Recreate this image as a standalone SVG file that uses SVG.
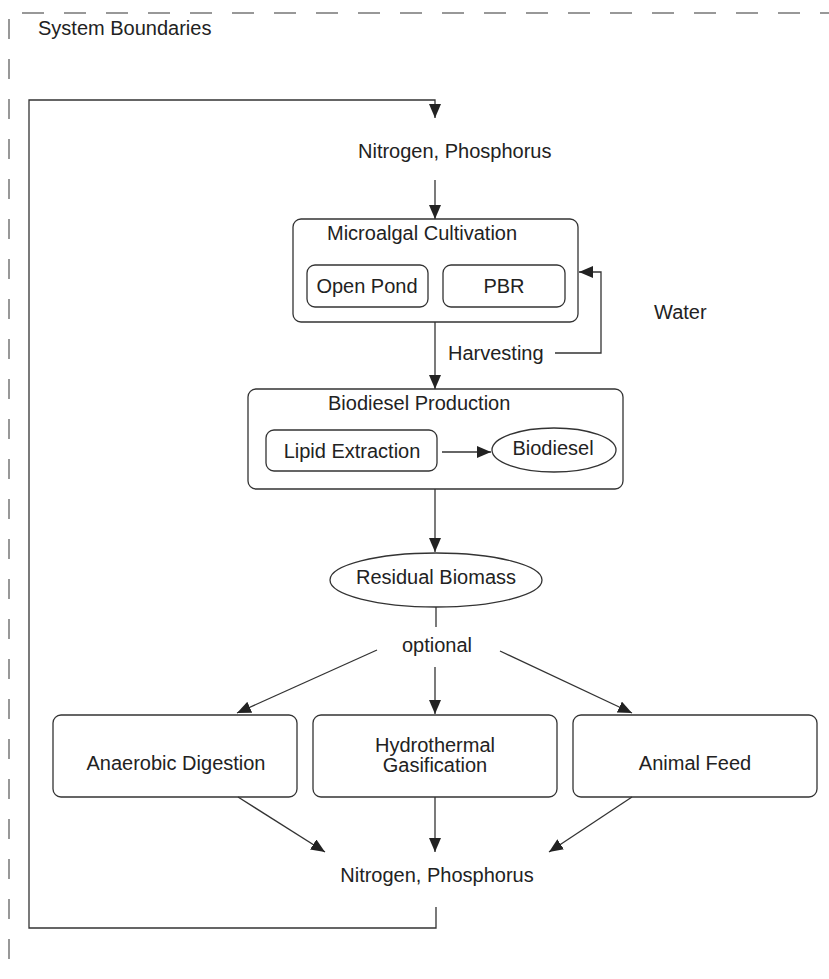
<svg xmlns="http://www.w3.org/2000/svg" width="829" height="979" viewBox="0 0 829 979">
<defs>
<style>
.t{font-family:"Liberation Sans",Arial,sans-serif;font-size:20px;fill:#222}
.c{text-anchor:middle}
.b{fill:#fff;stroke:#333;stroke-width:1.3}
.l{fill:none;stroke:#333;stroke-width:1.3}
.d{fill:none;stroke:#777;stroke-width:1.5}
</style>
<marker id="ah" markerUnits="userSpaceOnUse" markerWidth="16" markerHeight="12" refX="14" refY="6" orient="auto">
<path d="M0,0 L14,6 L0,12 Z" fill="#222"/>
</marker>
</defs>
<rect width="829" height="979" fill="#fff"/>
<g id="boundary">
<path class="d" d="M22,13 H829" stroke-dasharray="22 20"/>
<path class="d" d="M9,19 V979" stroke-dasharray="20 20"/>
<text class="t" x="38" y="35">System Boundaries</text>
</g>
<g id="np-top"><text class="t" x="358" y="158">Nitrogen, Phosphorus</text></g>
<g id="cultivation">
<rect class="b" x="293" y="219" width="285" height="103" rx="8"/>
<text class="t" x="327" y="240">Microalgal Cultivation</text>
</g>
<g id="open-pond">
<rect class="b" x="307" y="265" width="121" height="42" rx="8"/>
<text class="t c" x="367" y="293">Open Pond</text>
</g>
<g id="pbr">
<rect class="b" x="443" y="265" width="122" height="42" rx="8"/>
<text class="t c" x="504" y="293">PBR</text>
</g>
<g id="harvesting"><text class="t" x="448" y="360">Harvesting</text></g>
<g id="water"><text class="t" x="654" y="319">Water</text></g>
<g id="biodiesel-production">
<rect class="b" x="248" y="389" width="375" height="100" rx="8"/>
<text class="t" x="328" y="410">Biodiesel Production</text>
</g>
<g id="lipid-extraction">
<rect class="b" x="266" y="430" width="171" height="41" rx="8"/>
<text class="t c" x="352" y="458">Lipid Extraction</text>
</g>
<g id="biodiesel">
<ellipse class="b" cx="554" cy="450" rx="62" ry="22"/>
<text class="t c" x="553" y="455">Biodiesel</text>
</g>
<g id="residual-biomass">
<ellipse class="b" cx="436" cy="580" rx="106" ry="27"/>
<text class="t c" x="436" y="584">Residual Biomass</text>
</g>
<g id="optional"><text class="t c" x="437" y="652">optional</text></g>
<g id="anaerobic">
<rect class="b" x="53" y="715" width="244" height="82" rx="8"/>
<text class="t c" x="176" y="770">Anaerobic Digestion</text>
</g>
<g id="hydrothermal">
<rect class="b" x="313" y="715" width="244" height="82" rx="8"/>
<text class="t c" x="435" y="752">Hydrothermal</text>
<text class="t c" x="435" y="772">Gasification</text>
</g>
<g id="animal-feed">
<rect class="b" x="573" y="715" width="244" height="82" rx="8"/>
<text class="t c" x="695" y="770">Animal Feed</text>
</g>
<g id="np-bottom"><text class="t c" x="437" y="882">Nitrogen, Phosphorus</text></g>
<g id="connectors">
<path class="l" d="M436,907 V928 H29 V100 H435 V118" marker-end="url(#ah)"/>
<path class="l" d="M435,180 V219" marker-end="url(#ah)"/>
<path class="l" d="M435,322 V389" marker-end="url(#ah)"/>
<path class="l" d="M555,353 H601 V272 H579" marker-end="url(#ah)"/>
<path class="l" d="M442,452 H491" marker-end="url(#ah)"/>
<path class="l" d="M435,489 V552" marker-end="url(#ah)"/>
<path class="l" d="M436,607 V627"/>
<path class="l" d="M377,650 L237,713" marker-end="url(#ah)"/>
<path class="l" d="M435,667 V714" marker-end="url(#ah)"/>
<path class="l" d="M500,651 L632,713" marker-end="url(#ah)"/>
<path class="l" d="M238,797 L325,852" marker-end="url(#ah)"/>
<path class="l" d="M435,797 V852" marker-end="url(#ah)"/>
<path class="l" d="M632,797 L549,852" marker-end="url(#ah)"/>
</g>
</svg>
